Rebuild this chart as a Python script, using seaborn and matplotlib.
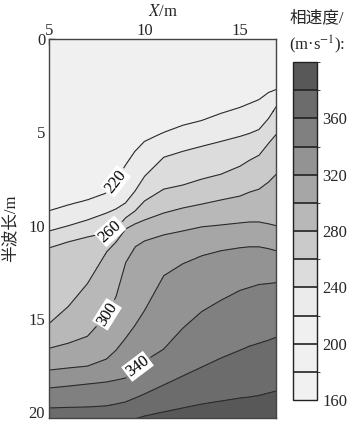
import numpy as np
import matplotlib
matplotlib.use("Agg")
import matplotlib.pyplot as plt
import seaborn as sns
from matplotlib.colors import ListedColormap, BoundaryNorm

# Survey stations along the profile, X (m)
x_stations = [5, 6, 7, 8, 8.5, 9, 9.5, 10, 11, 12, 13, 14, 15, 15.5, 16, 16.5, 16.9]

# Half-wavelength (m) at which each phase-velocity isoline crosses a station
iso_220 = [9.2, 8.89, 8.62, 8.25, 7.61, 6.76, 6.01, 5.48, 5.0, 4.62, 4.36, 3.98, 3.66, 3.45, 3.24, 2.86, 2.7]
iso_240 = [10.28, 10.0, 9.69, 9.32, 9.1, 8.78, 8.14, 7.35, 6.33, 6.01, 5.74, 5.48, 5.21, 5.05, 4.84, 4.25, 3.61]
iso_260 = [11.18, 10.86, 10.6, 10.38, 10.17, 9.58, 9.21, 8.67, 8.04, 7.82, 7.5, 7.24, 6.81, 6.49, 6.22, 5.58, 5.1]
iso_280 = [15.24, 14.33, 13.1, 11.4, 10.86, 10.17, 9.9, 9.69, 9.32, 9.05, 8.84, 8.62, 8.41, 8.2, 8.04, 7.66, 7.24]
iso_300 = [16.57, 16.3, 15.93, 14.81, 13.8, 11.98, 11.13, 10.81, 10.49, 10.28, 10.06, 9.96, 9.85, 9.8, 9.8, 9.9, 10.0]
iso_320 = [17.74, 17.63, 17.53, 17.15, 16.68, 16.04, 15.34, 14.54, 12.68, 12.04, 11.61, 11.34, 11.18, 11.13, 11.13, 11.23, 11.34]
iso_340 = [18.7, 18.6, 18.49, 18.38, 18.28, 18.17, 17.64, 17.26, 16.62, 15.5, 14.6, 14.0, 13.47, 13.31, 13.15, 13.1, 13.05]
iso_360 = [19.77, 19.74, 19.72, 19.66, 19.56, 19.45, 19.24, 19.02, 18.54, 18.06, 17.58, 17.1, 16.68, 16.46, 16.3, 16.14, 15.98]
iso_380 = [21.5, 21.3, 21.1, 20.9, 20.8, 20.6, 20.35, 20.2, 19.98, 19.77, 19.56, 19.4, 19.24, 19.18, 19.1, 18.97, 18.86]

iso_levels = [220, 240, 260, 280, 300, 320, 340, 360, 380]
surface_velocity = 205
deep_velocity = 395

# Colour bands of the velocity scale (160 ... 400 m/s, step 20)
band_edges = list(range(160, 401, 20))
band_colors = ["#f1f1f1", "#f0f0f0", "#f0f0f0", "#ebebeb", "#dcdcdc", "#cacaca",
               "#b8b8b8", "#a6a6a6", "#939393", "#808080", "#6c6c6c", "#585858"]
cbar_ticks = [160, 200, 240, 280, 320, 360]
label_levels = [220, 260, 300, 340]
label_spots = [(8.46, 7.6), (8.2, 10.33), (8.04, 14.76), (9.62, 17.53)]
label_angles = [52, 42, 58, 37]

sns.set_style("ticks")
plt.rcParams["font.family"] = ["Liberation Serif", "Noto Sans CJK SC"]
plt.rcParams["mathtext.fontset"] = "stix"

# Build the velocity section column by column from the isoline depths
isolines = [iso_220, iso_240, iso_260, iso_280, iso_300, iso_320, iso_340, iso_360, iso_380]
x_grid = np.linspace(x_stations[0], x_stations[-1], 239)
depth = np.linspace(0, 22, 881)
iso_on_grid = [np.interp(x_grid, x_stations, iso) for iso in isolines]
vel = np.empty((depth.size, x_grid.size))
for j in range(x_grid.size):
    knots_d = [0.0] + [iso[j] for iso in iso_on_grid] + [23.0]
    knots_v = [surface_velocity] + iso_levels + [deep_velocity]
    vel[:, j] = np.interp(depth, knots_d, knots_v)

cmap = ListedColormap(band_colors)
norm = BoundaryNorm(band_edges, cmap.N)

fig = plt.figure(figsize=(3.5, 4.22), dpi=100)
ax = fig.add_axes([0.141, 0.01, 0.648, 0.897])
cf = ax.contourf(x_grid, depth, vel, levels=band_edges, cmap=cmap, norm=norm)

plain_levels = [v for v in iso_levels if v not in label_levels]
ax.contour(x_grid, depth, vel, levels=plain_levels, colors="#2b2b2b", linewidths=0.8)
cs = ax.contour(x_grid, depth, vel, levels=label_levels, colors="#2b2b2b", linewidths=0.8)
labels = ax.clabel(cs, manual=label_spots, inline=True, inline_spacing=3,
                   fontsize=12, fmt="%d", colors="black")
for t in labels:
    lev = int(t.get_text())
    t.set_rotation(label_angles[label_levels.index(lev)])
    t.set_bbox(dict(facecolor="white", edgecolor="none", pad=0.8))

ax.set_xlim(5, 16.9)
ax.set_ylim(20.3, 0)
ax.set_xticks([5, 10, 15])
ax.set_yticks([0, 5, 10, 15, 20])
ax.xaxis.tick_top()
ax.xaxis.set_label_position("top")
ax.tick_params(direction="in", length=4, width=1, labelsize=12, color="#333333")
ax.tick_params(axis="x", pad=0)
ax.tick_params(axis="y", pad=3)
ax.set_xlabel(r"$X$/m", fontsize=12, labelpad=5)
ax.set_ylabel("半波长/m", fontsize=12, labelpad=7)
for s in ax.spines.values():
    s.set_visible(True)
    s.set_color("#444444")
    s.set_linewidth(1.0)

cax = fig.add_axes([0.837, 0.052, 0.069, 0.801])
cb = fig.colorbar(cf, cax=cax, ticks=cbar_ticks, drawedges=True)
cb.outline.set_edgecolor("#222222")
cb.outline.set_linewidth(1.0)
cb.dividers.set_color("#222222")
cb.dividers.set_linewidth(1.2)
cax.tick_params(length=0, labelsize=12, pad=4)

fig.text(0.828, 0.956, "相速度/", fontsize=12, va="center", ha="left")
fig.text(0.826, 0.893, r"(m·s$^{-1}$):", fontsize=12, va="center", ha="left")

fig.savefig("out.png", dpi=100)
